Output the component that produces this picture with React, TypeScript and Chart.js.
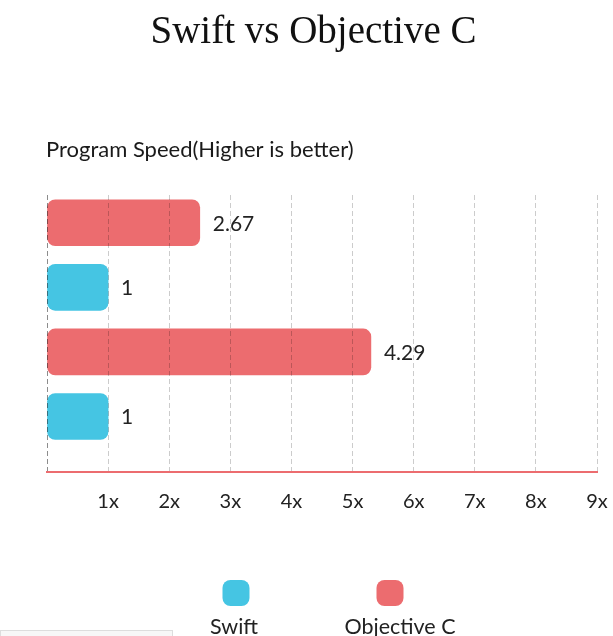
import React, { useEffect, useRef } from "react";
import { Chart, registerables } from "chart.js";

Chart.register(...registerables);

// ---- Data ----
const chartTitle = "Swift vs Objective C";
const chartSubtitle = "Program Speed(Higher is better)";
const seriesNames = ["Swift", "Objective C"];
const seriesColors = ["#45C5E3", "#EC6C6F"];
// row index (top to bottom) of each bar of each series
const swiftRows = [1, 3];
const objcRows = [0, 2];
// bar lengths as drawn in the picture
const swiftValues = [1, 1];
const objcValues = [2.5, 5.3];
// value labels printed next to the bars
const swiftLabels = ["1", "1"];
const objcLabels = ["2.67", "4.29"];
const tickLabels = ["", "1x", "2x", "3x", "4x", "5x", "6x", "7x", "8x", "9x"];

const rowsBySeries = [swiftRows, objcRows];
const valuesBySeries = [swiftValues, objcValues];
const labelsBySeries = [swiftLabels, objcLabels];

const SANS = "Lato";
const SERIF = '"Liberation Serif"';

export default function App() {
  const ref = useRef<HTMLCanvasElement>(null);

  useEffect(() => {
    const canvas = ref.current;
    if (!canvas) return;

    const textPlugin = {
      id: "texts",
      afterDraw(chart: any) {
        const ctx = chart.ctx as CanvasRenderingContext2D;
        ctx.save();
        // title
        ctx.fillStyle = "#111";
        ctx.textBaseline = "alphabetic";
        ctx.textAlign = "center";
        ctx.font = `39px ${SERIF}`;
        ctx.fillText(chartTitle, 313.5, 43);
        // subtitle
        ctx.textAlign = "left";
        ctx.fillStyle = "#1a1a1a";
        ctx.font = `22px ${SANS}`;
        ctx.fillText(chartSubtitle, 46, 157);
        // value labels
        ctx.font = `21px ${SANS}`;
        ctx.textBaseline = "middle";
        ctx.fillStyle = "#222";
        chart.data.datasets.forEach((_ds: any, di: number) => {
          const meta = chart.getDatasetMeta(di);
          meta.data.forEach((el: any, i: number) => {
            ctx.fillText(labelsBySeries[di][i], el.x + 13, el.y + 1);
          });
        });
        // legend
        const boxX = [236, 390];
        const textX = [234, 400];
        seriesNames.forEach((name, s) => {
          ctx.fillStyle = seriesColors[s];
          ctx.beginPath();
          (ctx as any).roundRect(boxX[s] - 13.5, 580, 27, 26, 8);
          ctx.fill();
          ctx.fillStyle = "#222";
          ctx.textAlign = "center";
          ctx.textBaseline = "alphabetic";
          ctx.font = `21.5px ${SANS}`;
          ctx.fillText(name, textX[s], 634);
        });
        ctx.restore();
      },
    };

    const chart = new Chart(canvas, {
      type: "bar",
      data: {
        datasets: seriesNames.map((name, s) => ({
          label: name,
          data: rowsBySeries[s].map((row, i) => ({ x: valuesBySeries[s][i], y: row })),
          backgroundColor: seriesColors[s],
          borderRadius: 8,
          borderSkipped: false,
          barThickness: 46,
          grouped: false,
        })),
      } as any,
      options: {
        indexAxis: "y",
        animation: false,
        responsive: true,
        maintainAspectRatio: false,
        events: [],
        layout: { padding: { left: 47, right: 16, top: 195, bottom: 118 } },
        plugins: {
          legend: { display: false },
          title: { display: false },
          tooltip: { enabled: false },
        },
        scales: {
          y: {
            type: "linear",
            reverse: true,
            offset: false,
            min: -0.43,
            max: 3.86,
            display: false,
          },
          x: {
            type: "linear",
            min: 0,
            max: 9,
            ticks: {
              stepSize: 1,
              autoSkip: false,
              padding: 4,
              color: "#222",
              font: { family: SANS, size: 20 },
              callback: (_v: any, i: number) => tickLabels[i] ?? "",
            },
            grid: {
              color: (c: any) => (c.index === 0 ? "rgba(0,0,0,0.45)" : "rgba(0,0,0,0.2)"),
              drawTicks: true,
              tickLength: 14,
              tickColor: "rgba(0,0,0,0)",
              z: 1,
            },
            border: { color: "#EC6C6F", width: 2, dash: [5, 3], z: 2 },
          },
        },
      } as any,
      plugins: [textPlugin],
    });

    return () => chart.destroy();
  }, []);

  return (
    <>
      <div style={{ position: "absolute", left: 0, top: 0, width: 613, height: 636 }}>
        <canvas ref={ref} />
      </div>
      <div
        style={{
          position: "absolute",
          left: 0,
          top: 630,
          width: 171,
          height: 10,
          border: "1px solid #ddd",
          background: "#f7f7f7",
        }}
      />
    </>
  );
}
